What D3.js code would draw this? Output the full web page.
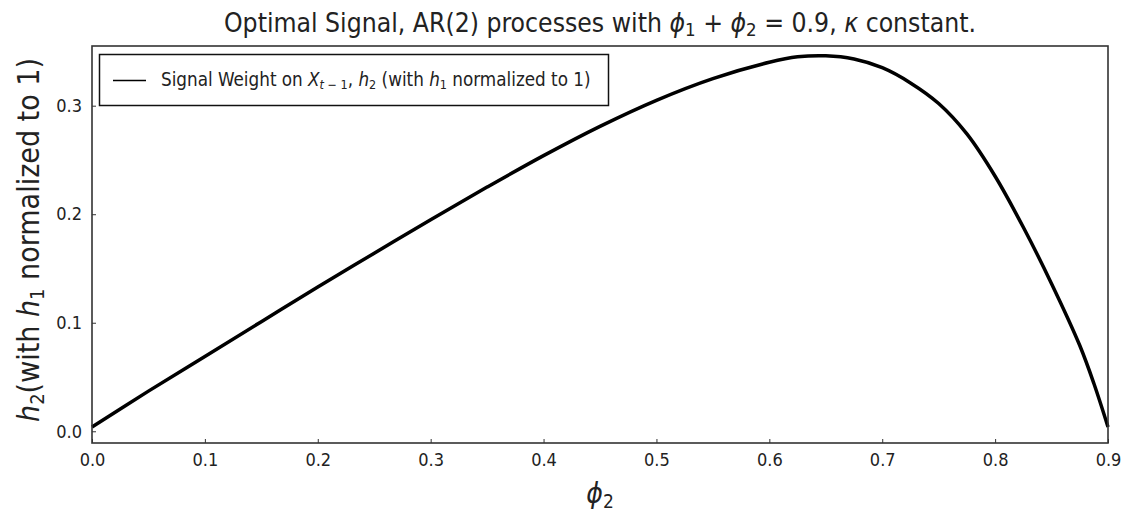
<!DOCTYPE html>
<html>
<head>
<meta charset="utf-8">
<script src="https://cdn.jsdelivr.net/npm/d3@7"></script>
<style>
  body { margin: 0; background: #fff; }
  text { font-family: "DejaVu Sans Condensed", "DejaVu Sans", sans-serif; fill: #222; }
</style>
</head>
<body>
<div id="chart"></div>
<script>
// values
var phi2 = [0, 0.05, 0.1, 0.15, 0.2, 0.25, 0.3, 0.35, 0.4, 0.45, 0.5, 0.55, 0.6, 0.625, 0.65,
            0.675, 0.7, 0.725, 0.75, 0.775, 0.8, 0.825, 0.85, 0.875, 0.8875, 0.9];
var h2 = [0.004, 0.037, 0.069, 0.101, 0.133, 0.164, 0.195, 0.225, 0.254, 0.281, 0.305, 0.325, 0.340, 0.345, 0.346,
          0.343, 0.335, 0.321, 0.302, 0.274, 0.235, 0.188, 0.136, 0.079, 0.044, 0.004];
var xTicks = [0, 0.1, 0.2, 0.3, 0.4, 0.5, 0.6, 0.7, 0.8, 0.9];
var yTicks = [0, 0.1, 0.2, 0.3];

var width = 1125, height = 512;
var margin = {left: 92, right: 17, top: 46, bottom: 69};

var svg = d3.select("#chart").append("svg")
    .attr("width", width)
    .attr("height", height);

var x = d3.scaleLinear().domain([0, 0.9]).range([margin.left, width - margin.right]);
var y = d3.scaleLinear().domain([-0.0108, 0.355]).range([height - margin.bottom, margin.top]);

// axes, ticks pointing inward
svg.append("g")
    .attr("transform", "translate(0," + (height - margin.bottom) + ")")
    .call(d3.axisBottom(x).tickValues(xTicks).tickSizeInner(-4).tickSizeOuter(0).tickPadding(10).tickFormat(d3.format(".1f")));
svg.append("g")
    .attr("transform", "translate(" + margin.left + ",0)")
    .call(d3.axisLeft(y).tickValues(yTicks).tickSizeInner(-4).tickSizeOuter(0).tickPadding(10).tickFormat(d3.format(".1f")));
svg.selectAll(".domain").remove();
svg.selectAll(".tick line").attr("stroke", "#333");
svg.selectAll(".tick text").attr("font-size", 18).attr("font-family", "DejaVu Sans Condensed").attr("fill", "#333");

// curve
var line = d3.line()
    .x(function(d, i) { return x(phi2[i]); })
    .y(function(d) { return y(d); })
    .curve(d3.curveCatmullRom.alpha(0.5));

svg.append("path")
    .datum(h2)
    .attr("d", line)
    .attr("fill", "none")
    .attr("stroke", "#000")
    .attr("stroke-width", 3.5);

// frame
svg.append("rect")
    .attr("x", margin.left)
    .attr("y", margin.top)
    .attr("width", width - margin.left - margin.right)
    .attr("height", height - margin.top - margin.bottom)
    .attr("fill", "none")
    .attr("stroke", "#333")
    .attr("stroke-width", 1.6);

// title
var title = svg.append("text")
    .attr("x", 600)
    .attr("y", 32)
    .attr("text-anchor", "middle")
    .attr("font-size", 26.3);
title.append("tspan").text("Optimal Signal, AR(2) processes with ");
title.append("tspan").attr("font-style", "italic").text("ϕ");
title.append("tspan").attr("font-size", 18.5).attr("dy", 4).text("1");
title.append("tspan").attr("dy", -4).text(" + ");
title.append("tspan").attr("font-style", "italic").text("ϕ");
title.append("tspan").attr("font-size", 18.5).attr("dy", 4).text("2");
title.append("tspan").attr("dy", -4).text(" = 0.9, ");
title.append("tspan").attr("font-style", "italic").text("κ");
title.append("tspan").text(" constant.");

// legend
var lg = svg.append("g");
lg.append("rect")
    .attr("x", 99.5).attr("y", 54.5)
    .attr("width", 509).attr("height", 51)
    .attr("fill", "#fff")
    .attr("stroke", "#111")
    .attr("stroke-width", 1.5);
lg.append("line")
    .attr("x1", 113).attr("x2", 146)
    .attr("y1", 80.5).attr("y2", 80.5)
    .attr("stroke", "#000").attr("stroke-width", 1.5);
var lt = lg.append("text")
    .attr("x", 161).attr("y", 86)
    .attr("font-size", 18.7);
lt.append("tspan").text("Signal Weight on ");
lt.append("tspan").attr("font-style", "italic").text("X");
lt.append("tspan").attr("font-size", 12.5).attr("dy", 3).attr("font-style", "italic").text("t");
lt.append("tspan").attr("font-size", 12.5).text(" − 1");
lt.append("tspan").attr("dy", -3).text(", ");
lt.append("tspan").attr("font-style", "italic").text("h");
lt.append("tspan").attr("font-size", 12.5).attr("dy", 3).text("2");
lt.append("tspan").attr("dy", -3).text(" (with ");
lt.append("tspan").attr("font-style", "italic").text("h");
lt.append("tspan").attr("font-size", 12.5).attr("dy", 3).text("1");
lt.append("tspan").attr("dy", -3).text(" normalized to 1)");

// y label
var yl = svg.append("text")
    .attr("transform", "translate(39," + 240 + ") rotate(-90)")
    .attr("text-anchor", "middle")
    .attr("font-size", 30);
yl.append("tspan").attr("font-style", "italic").text("h");
yl.append("tspan").attr("font-size", 20).attr("dy", 5).text("2");
yl.append("tspan").attr("dy", -5).text("(with ");
yl.append("tspan").attr("font-style", "italic").text("h");
yl.append("tspan").attr("font-size", 20).attr("dy", 5).text("1");
yl.append("tspan").attr("dy", -5).text(" normalized to 1)");

// x label
var xl = svg.append("text")
    .attr("x", 600)
    .attr("y", 503)
    .attr("text-anchor", "middle")
    .attr("font-size", 28);
xl.append("tspan").attr("font-style", "italic").text("ϕ");
xl.append("tspan").attr("font-size", 19).attr("dy", 5).text("2");
</script>
</body>
</html>
